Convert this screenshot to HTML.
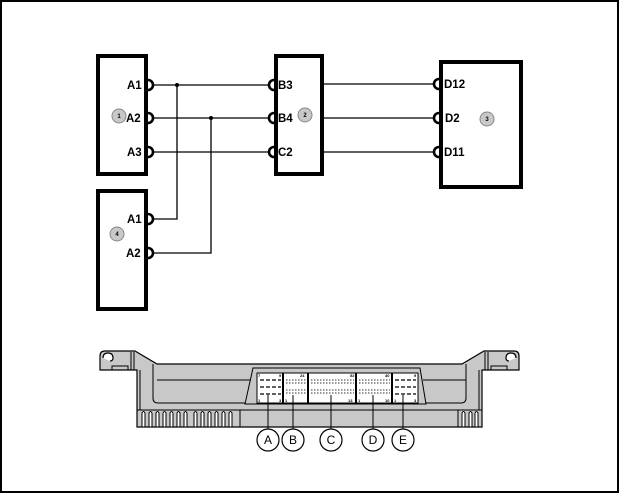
<!DOCTYPE html>
<html><head><style>
html,body{margin:0;padding:0;background:#fff;}
svg{display:block;font-family:"Liberation Sans",Arial,sans-serif;}
</style></head><body>
<svg width="619" height="493" viewBox="0 0 619 493" xmlns="http://www.w3.org/2000/svg">
<rect x="1" y="1" width="617" height="491" fill="#fff" stroke="#000" stroke-width="2"/>
<g fill="none" stroke="#000" stroke-width="4">
<rect x="98" y="56" width="48" height="118"/>
<rect x="276" y="56" width="46" height="118"/>
<rect x="441" y="62" width="80" height="125"/>
<rect x="98" y="191" width="48" height="118"/>
</g>
<g stroke="#000" stroke-width="1.3" fill="none">
<line x1="152" y1="85" x2="268" y2="85"/>
<line x1="152" y1="118" x2="268" y2="118"/>
<line x1="152" y1="152" x2="268" y2="152"/>
<line x1="322" y1="84" x2="433" y2="84"/>
<line x1="322" y1="118" x2="433" y2="118"/>
<line x1="322" y1="152" x2="433" y2="152"/>
<polyline points="177,85 177,219 152,219"/>
<polyline points="211,118 211,253 152,253"/>
</g>
<circle cx="177" cy="85" r="2" fill="#000"/>
<circle cx="211" cy="118" r="2" fill="#000"/>
<g stroke="#000" stroke-width="2.6" fill="none">
<path d="M148,80 a5,5 0 0 1 0,10"/><path d="M148,113 a5,5 0 0 1 0,10"/><path d="M148,147 a5,5 0 0 1 0,10"/>
<path d="M148,214 a5,5 0 0 1 0,10"/><path d="M148,248 a5,5 0 0 1 0,10"/>
<path d="M274,80 a5,5 0 0 0 0,10"/><path d="M274,113 a5,5 0 0 0 0,10"/><path d="M274,147 a5,5 0 0 0 0,10"/>
<path d="M439,79 a5,5 0 0 0 0,10"/><path d="M439,113 a5,5 0 0 0 0,10"/><path d="M439,147 a5,5 0 0 0 0,10"/>
</g>
<g font-size="11.5" font-weight="bold" fill="#000">
<text x="127" y="89">A1</text><text x="126" y="122">A2</text><text x="127" y="156">A3</text>
<text x="127" y="223">A1</text><text x="126" y="257">A2</text>
<text x="278" y="89">B3</text><text x="278" y="122">B4</text><text x="278" y="156">C2</text>
<text x="444" y="88">D12</text><text x="445" y="122">D2</text><text x="444" y="156">D11</text>
</g>
<g fill="#c8c8c8" stroke="#888" stroke-width="1">
<circle cx="119" cy="116" r="7"/><circle cx="305" cy="115" r="7"/><circle cx="487" cy="119" r="7"/><circle cx="117" cy="234" r="7"/>
</g>
<g font-size="6" font-weight="bold" text-anchor="middle">
<text x="119" y="118">1</text><text x="305" y="117">2</text><text x="487" y="121">3</text><text x="117" y="236">4</text>
</g>
<!-- ECU -->
<path d="M100,370 V356 q0,-5 5,-5 H135 L157,364 H462 L484,351 H514 q5,0 5,5 V370 H482 V427 H137 V370 Z" fill="#c8c8c8" stroke="#000" stroke-width="1.2"/>
<!-- hooks -->
<path d="M103,358 q0,-5 5,-5 q5,0 5,5 q0,3 -3,3" fill="#fff" stroke="#000" stroke-width="1.2"/>
<path d="M516,358 q0,-5 -5,-5 q-5,0 -5,5 q0,3 3,3" fill="#fff" stroke="#000" stroke-width="1.2"/>
<g stroke="#000" stroke-width="1" fill="none">
<line x1="131" y1="352" x2="131" y2="370"/><line x1="134" y1="352" x2="134" y2="370"/>
<line x1="488" y1="352" x2="488" y2="370"/><line x1="485" y1="352" x2="485" y2="370"/>
<line x1="140" y1="370" x2="140" y2="410"/><line x1="479" y1="370" x2="479" y2="410"/>
<rect x="112" y="366" width="16" height="4"/><rect x="491" y="366" width="16" height="4"/>
<path d="M153,364 V398 q0,5 5,5 H246"/><path d="M466,364 V398 q0,5 -5,5 H426"/>
<line x1="157" y1="380" x2="250" y2="380"/><line x1="423" y1="380" x2="466" y2="380"/>
<line x1="137" y1="410" x2="482" y2="410"/>
<line x1="240" y1="410" x2="240" y2="427"/><line x1="458" y1="410" x2="458" y2="427"/>
</g>
<g fill="#fff" stroke="#000" stroke-width="1">
<path d="M142,427 v-14 q1.5,-3 3,0 v14 Z M149,427 v-14 q1.5,-3 3,0 v14 Z M156,427 v-14 q1.5,-3 3,0 v14 Z M163,427 v-14 q1.5,-3 3,0 v14 Z M170,427 v-14 q1.5,-3 3,0 v14 Z M177,427 v-14 q1.5,-3 3,0 v14 Z M184,427 v-14 q1.5,-3 3,0 v14 Z M194,427 v-14 q1.5,-3 3,0 v14 Z M201,427 v-14 q1.5,-3 3,0 v14 Z M208,427 v-14 q1.5,-3 3,0 v14 Z M215,427 v-14 q1.5,-3 3,0 v14 Z M222,427 v-14 q1.5,-3 3,0 v14 Z M229,427 v-14 q1.5,-3 3,0 v14 Z M462,427 v-14 q1.5,-3 3,0 v14 Z M469,427 v-14 q1.5,-3 3,0 v14 Z M475,427 v-14 q1.5,-3 3,0 v14 Z"/>
</g>
<path d="M253,368 H420 L426,404 H245 Z" fill="#c8c8c8" stroke="#000"/>
<g fill="#fff" stroke="#000" stroke-width="1">
<rect x="257" y="373" width="26" height="30"/>
<rect x="283" y="373" width="25" height="30"/>
<rect x="308" y="373" width="48" height="30"/>
<rect x="356" y="373" width="36" height="30"/>
<rect x="392" y="373" width="26" height="30"/>
</g>
<g stroke="#000" stroke-width="2"><line x1="283" y1="373" x2="283" y2="403"/><line x1="308" y1="373" x2="308" y2="403"/><line x1="356" y1="373" x2="356" y2="403"/><line x1="392" y1="373" x2="392" y2="403"/></g>
<g stroke="#333" stroke-width="1" stroke-dasharray="1.5,1.5">
<line x1="286" y1="380" x2="306" y2="380"/><line x1="286" y1="383" x2="306" y2="383"/><line x1="286" y1="390" x2="306" y2="390"/><line x1="286" y1="393" x2="306" y2="393"/>
<line x1="311" y1="380" x2="354" y2="380"/><line x1="311" y1="383" x2="354" y2="383"/><line x1="311" y1="390" x2="354" y2="390"/><line x1="311" y1="393" x2="354" y2="393"/>
<line x1="359" y1="380" x2="390" y2="380"/><line x1="359" y1="383" x2="390" y2="383"/><line x1="359" y1="390" x2="390" y2="390"/><line x1="359" y1="393" x2="390" y2="393"/>
</g>
<g stroke="#000" stroke-width="1.3" stroke-dasharray="4,2">
<line x1="260" y1="380" x2="281" y2="380"/><line x1="260" y1="387" x2="281" y2="387"/><line x1="260" y1="394" x2="281" y2="394"/>
<line x1="395" y1="380" x2="416" y2="380"/><line x1="395" y1="387" x2="416" y2="387"/><line x1="395" y1="394" x2="416" y2="394"/>
</g>
<g font-size="4" font-weight="bold">
<text x="258" y="377">7</text><text x="279" y="377">9</text><text x="258" y="402">1</text><text x="279" y="402">3</text>
<text x="300" y="377">24</text><text x="285" y="402">1</text><text x="350" y="377">52</text><text x="348" y="402">13</text>
<text x="385" y="377">40</text><text x="358" y="402">1</text><text x="385" y="402">10</text><text x="414" y="377">9</text><text x="394" y="402">1</text><text x="414" y="402">3</text>
</g>
<g stroke="#000" stroke-width="1" fill="none">
<line x1="268" y1="395" x2="268" y2="429"/><line x1="293" y1="395" x2="293" y2="429"/><line x1="331" y1="395" x2="331" y2="429"/><line x1="373" y1="395" x2="373" y2="429"/><line x1="403" y1="395" x2="403" y2="429"/>
</g>
<g stroke="#000" stroke-width="1.2" fill="#fff">
<circle cx="268" cy="440" r="11"/><circle cx="293" cy="440" r="11"/><circle cx="331" cy="440" r="11"/><circle cx="373" cy="440" r="11"/><circle cx="403" cy="440" r="11"/>
</g>
<g font-size="12" text-anchor="middle">
<text x="268" y="444">A</text><text x="293" y="444">B</text><text x="331" y="444">C</text><text x="373" y="444">D</text><text x="403" y="444">E</text>
</g>
</svg>
</body></html>
